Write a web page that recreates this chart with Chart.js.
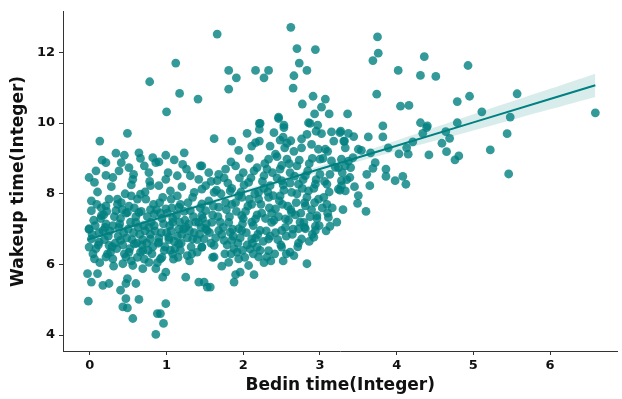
<!DOCTYPE html>
<html>
<head>
<meta charset="utf-8">
<script src="https://cdn.jsdelivr.net/npm/chart.js@4/dist/chart.umd.min.js"></script>
<style>
html,body{margin:0;padding:0;background:#fff;}
#wrap{width:622px;height:399px;position:relative;}
</style>
</head>
<body>
<div id="wrap"><canvas id="c" width="622" height="399"></canvas></div>
<script>
// ---- Data: [Bedin time, Wakeup time] ----
const sparsePoints = [
[1.12,11.70],[0.78,11.17],[1.17,10.84],[1.41,10.68],[1.00,10.32],
[1.66,12.52],[2.62,12.71],[2.70,12.11],[2.94,12.08],[2.73,11.70],[2.83,11.49],[2.66,11.34],[2.65,10.99],
[1.81,11.49],[1.91,11.28],[1.81,10.96],[2.16,11.49],[2.33,11.49],[2.27,11.28],[2.91,10.76],[3.07,10.68],
[3.02,10.45],[2.77,10.54],[2.93,10.26],[3.12,10.26],[3.36,10.26],[2.46,10.17],[2.21,9.99],[2.53,9.94],
[2.87,9.99],[2.97,9.94],
[3.75,12.44],[3.76,11.98],[3.69,11.77],[4.36,11.88],[4.02,11.49],[4.31,11.35],[4.51,11.32],[4.93,11.63],
[3.74,10.82],[4.05,10.48],[4.16,10.50],[4.79,10.61],[4.95,10.76],[5.11,10.32],[4.31,10.01],[4.79,10.01],
[3.82,9.92],[4.40,9.92],
[5.57,10.83],[5.48,10.17],[6.59,10.29],[5.44,9.70],[5.22,9.24],[5.46,8.56]
];
const rightPoints = [
[4.39,9.87],[4.34,9.71],[3.82,9.61],[3.63,9.61],[4.64,9.76],[4.69,9.57],[4.59,9.43],[4.65,9.19],[4.81,9.07],
[4.76,8.96],[4.42,9.10],[4.21,9.47],[4.13,9.30],[4.03,9.13],[4.15,9.12],[3.89,9.30],[3.50,9.26],[3.54,9.23],
[3.66,9.16],[3.72,8.88],[3.69,8.72],[3.43,9.02],[3.40,8.74],[3.61,8.55],[3.86,8.70],[3.86,8.49],[3.98,8.37],
[4.08,8.49],[4.12,8.27],[3.65,8.23],[3.49,7.73],[3.60,7.50],[3.27,9.77],[3.37,9.71],[3.32,9.49],[3.44,9.62],
[3.33,9.30],[3.28,8.98],[3.37,8.92],[3.29,8.60],[3.39,8.46],[3.28,8.23],[3.33,8.08],[3.45,8.20],[3.50,7.95]
];
const midPoints = [
[2.22,9.99],[2.46,10.13],[2.21,9.82],[2.05,9.71],[1.62,9.56],[1.85,9.49],[1.94,9.23],[2.11,9.35],[2.21,9.49],
[2.40,9.73],[2.53,9.87],[2.48,9.52],[2.57,9.43],[2.54,9.30],[2.85,10.01],[2.95,9.77],[2.83,9.68],[2.76,9.30],
[2.98,9.26],[3.15,9.75],[3.26,9.73],[3.31,9.49],[3.18,9.49],[3.07,9.26],[3.00,8.98],[3.15,8.93],[3.24,8.74],
[3.33,8.79],[3.13,8.55],[3.28,8.37],[3.09,8.27],[3.24,8.13],[2.85,8.08],[2.94,8.27],[2.81,8.51],[2.70,8.79],
[2.57,8.98],[2.42,9.12],[2.33,8.98],[2.18,8.74],[2.27,8.51],[2.48,8.70],[2.61,8.60],[2.50,8.37],[2.35,8.23],
[2.72,8.27],[2.63,8.04],[2.48,7.94],[2.33,7.90],[2.20,8.04],[2.07,8.32],[2.00,8.60],[1.90,8.79],[1.77,8.70],
[1.66,8.37],[1.55,8.60],[1.46,8.79],[1.51,8.23],[1.62,8.04],[1.83,8.08],[1.98,7.90],[2.11,7.70],[1.85,7.70],
[1.68,7.62],[1.51,7.52],[2.42,7.57],[2.63,7.47],[2.81,7.66],[2.96,7.38],[2.79,7.19],[3.09,7.70],[3.11,7.33],
[2.98,7.85],[2.55,7.29],[2.37,7.19],[2.16,7.29],[1.98,7.38],[1.81,7.19],[1.59,7.19],[1.46,7.38],[2.22,6.96],
[2.50,6.96],[2.72,7.01],[2.94,6.96],[1.68,6.96],[1.94,7.01]
];
const leftPoints = [
[0.49,9.71],[0.13,9.49],[0.34,9.15],[0.45,9.09],[0.64,9.16],[0.82,9.02],[0.99,9.09],[1.23,9.16],[0.21,8.88],
[0.41,8.88],[0.51,8.74],[0.71,8.79],[0.86,8.88],[1.10,8.96],[1.21,8.83],[1.44,8.79],[0.08,8.65],[0.21,8.52],
[-0.01,8.46],[0.06,8.32],[0.30,8.46],[0.56,8.41],[0.77,8.60],[0.99,8.41],[1.14,8.51],[1.31,8.51],[1.42,8.41],
[0.79,8.23],[0.90,8.23],[1.05,8.08],[1.14,7.94],[1.36,8.04],[1.46,8.13],[0.36,7.85],[0.54,7.94],[0.66,7.99],
[0.73,7.85],[0.21,7.66],[0.02,7.52],[0.15,7.38],[0.34,7.52],[0.49,7.47],[0.64,7.47],[0.84,7.43],[0.99,7.57],
[1.16,7.62],[1.31,7.52],[1.46,7.71],[-0.01,7.01],[0.21,7.15],[0.38,7.05],[0.60,7.19],[0.77,7.05],[1.08,7.19],
[1.25,7.05],[1.42,7.19]
];
const lowPoints = [
[-0.01,6.99],[0.17,6.96],[0.02,6.72],[0.12,6.63],[-0.01,6.49],[0.25,6.54],[0.40,6.68],[0.58,6.58],[0.51,6.35],
[0.69,6.39],[0.79,6.72],[0.90,6.63],[1.03,6.77],[1.16,6.58],[1.34,6.72],[1.46,6.49],[1.51,7.01],[0.06,6.16],
[0.21,6.21],[0.30,6.16],[0.47,6.21],[0.56,5.97],[0.43,6.02],[0.69,5.88],[0.77,6.06],[0.92,6.16],[1.08,6.30],
[1.27,6.25],[0.99,5.78],[0.95,5.64],[0.86,5.88],[-0.03,5.74],[0.10,5.74],[0.02,5.50],[0.17,5.41],[0.25,5.46],
[0.49,5.60],[0.47,5.46],[0.60,5.46],[0.40,5.27],[0.47,5.03],[0.64,5.01],[0.43,4.80],[0.49,4.77],[0.56,4.47],
[-0.02,4.96],[1.25,5.64],[1.42,5.50],[1.49,5.50],[0.99,4.89],[0.88,4.61],[0.92,4.61],[0.96,4.33],[0.86,4.02],
[1.53,5.36],[1.57,5.36],[1.62,6.21],[1.81,6.06],[1.88,5.50],[1.90,5.71],[1.96,5.78],[2.07,5.97],[2.14,5.71],
[1.94,6.16],[1.92,6.35],[2.20,6.21],[2.31,6.21],[2.33,6.39],[2.50,6.49],[2.61,6.35],[2.83,6.02],[2.33,6.72],
[2.76,6.72],[2.92,6.77],[2.81,7.01],[3.13,7.08],[2.94,7.08],[1.49,6.72],[1.46,6.49],[1.62,6.54],[1.75,6.68],
[1.85,6.68],[2.11,6.72],[2.18,6.49],[2.09,6.44],[1.98,6.96],[1.83,6.91],[1.53,6.96]
];
const corePoints = [
[0.05,7.25],[0.12,6.90],[0.18,7.40],[0.24,6.80],[0.30,7.10],[0.33,6.60],[0.40,7.30],[0.44,6.90],[0.50,7.00],
[0.55,6.70],[0.60,7.35],[0.65,6.85],[0.70,7.10],[0.74,6.60],[0.80,7.20],[0.85,6.95],[0.90,6.75],[0.94,7.30],
[1.00,6.90],[1.04,7.10],[1.10,6.65],[1.13,7.40],[1.20,6.85],[1.24,7.25],[1.30,6.95],[1.35,7.35],[1.40,6.70],
[1.45,7.05],[0.08,6.45],[0.27,6.35],[0.52,6.45],[0.76,6.40],[0.98,6.50],[1.18,6.40],[1.33,6.30],[0.15,7.60],
[0.36,7.70],[0.58,7.60],[0.83,7.70],[1.07,7.60],[1.28,7.75],[0.02,7.80],[0.46,8.00],[0.72,8.05],[0.95,7.90],
[1.20,8.20],[0.62,6.20],[0.88,6.05],[1.09,6.15],[0.35,6.45],[0.68,6.55],[0.92,7.45],[1.16,7.00],[0.20,7.05],
[0.42,7.55],[0.10,8.05],[0.28,8.20],[0.54,8.25],[0.78,8.35],[1.02,8.60],[1.26,8.70],[0.66,9.00],[0.90,8.90],
[0.38,8.65],[0.16,8.95],[0.57,8.55],
[1.55,7.80],[1.60,7.40],[1.65,8.10],[1.70,7.20],[1.72,6.85],[1.78,7.55],[1.80,8.30],[1.86,7.00],[1.90,7.75],
[1.93,6.60],[1.97,8.05],[2.00,7.30],[2.04,6.90],[2.06,7.65],[2.10,8.45],[2.13,7.10],[2.16,6.75],[2.20,7.85],
[2.24,7.45],[2.27,8.15],[2.30,6.95],[2.34,7.60],[2.38,8.60],[2.40,7.25],[2.45,6.70],[2.47,7.80],[2.52,8.25],
[2.55,7.05],[2.58,7.65],[2.60,8.85],[2.64,6.85],[2.68,7.40],[2.70,8.00],[2.74,7.20],[2.78,8.40],[2.80,7.75],
[2.86,6.65],[2.89,7.55],[2.92,8.15],[2.96,7.30],[3.00,8.55],[3.05,7.90],[3.08,6.95],[3.12,8.05],[3.16,7.60],
[3.20,8.75],[1.58,6.60],[1.76,6.30],[1.88,6.45],[2.02,6.20],[2.22,6.40],[2.36,6.10],[2.56,6.30],[2.71,6.50],
[1.68,8.55],[1.84,8.90],[2.08,9.00],[2.28,8.85],[2.44,9.05],[2.66,9.20],[2.90,9.00],[3.10,9.20],[2.52,9.60],
[2.76,9.55],[3.02,9.70],[2.16,9.45],[3.22,7.20],[3.26,8.10],[3.30,7.55],[3.35,8.40]
];
const denseLeftPoints = [
[0.03,6.85],[0.07,7.10],[0.11,6.55],[0.14,7.30],[0.19,6.70],[0.22,7.50],[0.26,6.95],[0.29,6.50],[0.32,7.35],
[0.37,6.80],[0.39,7.15],[0.43,6.55],[0.47,7.45],[0.48,6.75],[0.53,7.20],[0.57,6.90],[0.61,6.60],[0.63,7.05],
[0.67,7.50],[0.69,6.70],[0.72,6.95],[0.75,7.35],[0.79,6.85],[0.82,6.50],[0.84,7.10],[0.87,7.55],[0.89,6.60],
[0.93,6.90],[0.96,7.15],[0.97,6.40],[1.01,7.45],[1.03,6.70],[1.06,6.95],[1.08,7.30],[1.11,6.45],[1.14,6.80],
[1.17,7.20],[1.19,6.60],[1.22,7.00],[1.23,7.50],[1.27,6.75],[1.29,7.15],[1.32,6.50],[1.36,6.90],[1.38,7.20],
[1.43,6.85],[1.47,7.30],[0.04,6.30],[0.13,6.05],[0.23,6.30],[0.31,5.95],[0.45,6.30],[0.54,6.10],[0.66,6.35],
[0.71,6.15],[0.81,6.30],[0.94,6.20],[1.05,6.40],[1.15,6.20],[1.30,6.10],[1.40,6.35],[0.09,7.70],[0.25,7.85],
[0.41,7.75],[0.51,7.65],[0.62,7.85],[0.79,7.55],[0.91,7.75],[1.06,7.85],[1.18,7.70],[1.34,7.90],[1.44,7.60]
];
const denseMidPoints = [
[1.52,7.15],[1.56,6.90],[1.61,7.65],[1.64,6.75],[1.67,7.35],[1.71,8.00],[1.74,7.05],[1.77,7.75],[1.79,6.55],
[1.82,7.35],[1.85,8.15],[1.87,6.80],[1.91,7.50],[1.94,7.95],[1.96,6.75],[1.99,7.15],[2.01,8.25],[2.03,7.50],
[2.05,6.55],[2.08,7.85],[2.11,7.20],[2.12,6.60],[2.15,8.00],[2.18,7.40],[2.19,6.85],[2.23,7.70],[2.25,8.35],
[2.26,6.65],[2.29,7.30],[2.32,8.05],[2.35,6.80],[2.37,7.45],[2.39,7.95],[2.42,6.90],[2.44,8.45],[2.46,7.35],
[2.49,6.55],[2.51,7.70],[2.53,8.10],[2.56,6.80],[2.59,7.25],[2.61,8.30],[2.62,7.55],[2.65,7.00],[2.67,8.50],
[2.69,7.75],[2.72,6.60],[2.75,7.45],[2.77,8.15],[2.80,7.05],[2.83,7.90],[2.84,8.65],[2.87,7.35],[2.90,6.85],
[2.93,7.75],[2.95,8.40],[2.99,7.10],[3.03,7.60],[3.06,8.35],[3.10,7.45],[1.60,6.20],[1.72,5.95],[1.84,6.30],
[1.99,6.40],[2.13,6.30],[2.27,6.05],[2.41,6.30],[2.52,6.10],[2.66,6.25],[1.58,8.35],[1.75,8.45],[1.95,8.45],
[2.14,8.65],[2.31,8.70],[2.50,8.80],[2.73,8.95],[2.86,8.85],[3.04,9.00],[2.35,9.35],[2.62,9.50],[2.89,9.40]
];
// Regression line and its confidence band
const fitX    = [-0.03, 1.00, 2.00, 3.00, 4.00, 5.00, 6.00, 6.59];
const fitY    = [ 6.70, 7.38, 8.04, 8.70, 9.36, 10.02, 10.68, 11.07];
const bandLow = [ 6.58, 7.31, 7.98, 8.61, 9.21, 9.79, 10.39, 10.74];
const bandHigh= [ 6.82, 7.45, 8.10, 8.79, 9.51, 10.25, 10.97, 11.40];
const xTicks = [0,1,2,3,4,5,6];
const yTicks = [4,6,8,10,12];
const xTitle = "Bedin time(Integer)";
const yTitle = "Wakeup time(Integer)";

// ---- assemble ----
const pts = [].concat(sparsePoints, rightPoints, midPoints, leftPoints, lowPoints, corePoints, denseLeftPoints, denseMidPoints)
  .map(p => ({x: p[0], y: p[1]}));
const toXY = ys => fitX.map((x,i)=>({x, y: ys[i]}));

const TEAL = '#008080';
const FONT = "'DejaVu Sans', sans-serif";

new Chart(document.getElementById('c'), {
  type: 'scatter',
  data: {
    datasets: [
      {type:'line', data: toXY(fitY), borderColor: TEAL, borderWidth: 2, pointRadius: 0, fill: false, order: 1},
      {type:'line', data: toXY(bandHigh), borderWidth: 0, borderColor:'rgba(0,0,0,0)', pointRadius: 0, fill: '+1',
       backgroundColor: 'rgba(0,128,128,0.15)', tension: 0.3, order: 2},
      {type:'line', data: toXY(bandLow), borderWidth: 0, borderColor:'rgba(0,0,0,0)', pointRadius: 0, fill: false, tension: 0.3, order: 2},
      {data: pts, backgroundColor: 'rgba(0,128,128,0.8)', borderWidth: 0, pointRadius: 4.4, order: 3}
    ]
  },
  options: {
    responsive: false,
    animation: false,
    events: [],
    layout: {padding: {top: 10, right: 2, left: 0, bottom: 0}},
    plugins: {legend: {display: false}, tooltip: {enabled: false}},
    scales: {
      x: {
        type: 'linear', min: -0.35, max: 6.88,
        afterBuildTicks: sc => { sc.ticks = xTicks.map(v=>({value:v})); },
        afterFit: sc => { sc.height = 48; },
        grid: {drawOnChartArea: false, drawTicks: true, tickLength: 4, color: '#333', lineWidth: 1},
        border: {display: true, color: '#333', width: 1},
        ticks: {color: '#111', font: {family: FONT, size: 13, weight: 'bold'}, padding: 3, maxRotation: 0},
        title: {display: true, text: xTitle, color: '#111', font: {family: FONT, size: 17, weight: 'bold'}, padding: {top: 0, bottom: 3}}
      },
      y: {
        type: 'linear', min: 3.55, max: 13.15,
        afterBuildTicks: sc => { sc.ticks = yTicks.map(v=>({value:v})); },
        afterFit: sc => { sc.width = 63; },
        grid: {drawOnChartArea: false, drawTicks: true, tickLength: 4, color: '#333', lineWidth: 1},
        border: {display: true, color: '#333', width: 1},
        ticks: {color: '#111', font: {family: FONT, size: 13, weight: 'bold'}, padding: 4},
        title: {display: true, text: yTitle, color: '#111', font: {family: FONT, size: 17, weight: 'bold'}, padding: {top: 8, bottom: 0}}
      }
    }
  }
});
</script>
</body>
</html>
